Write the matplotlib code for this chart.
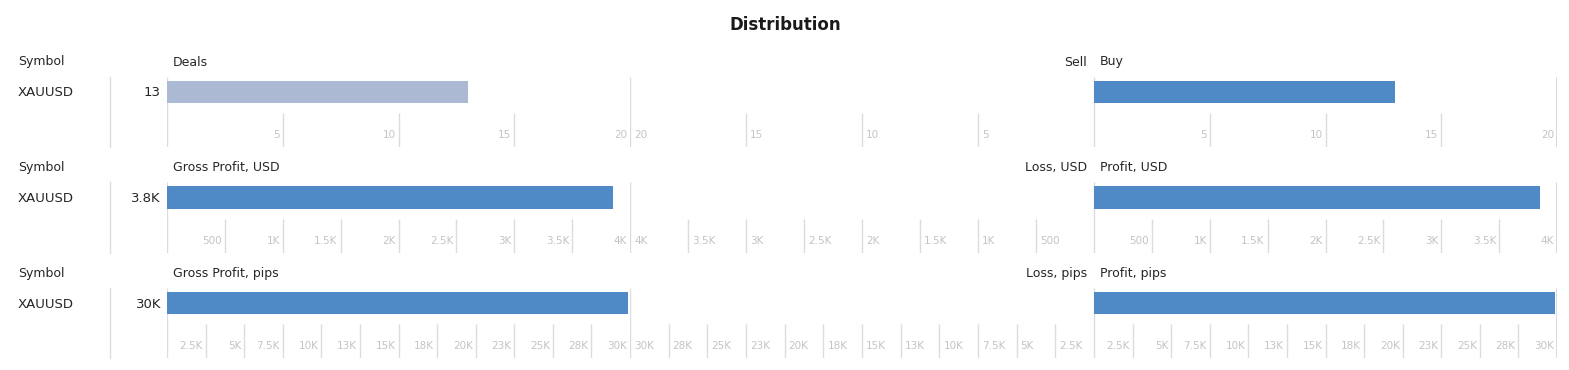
import matplotlib
matplotlib.use("Agg")
import matplotlib.pyplot as plt
from matplotlib.lines import Line2D
from matplotlib import transforms

# ---------------- data ----------------
symbols = ["XAUUSD"]
row_titles = ["Deals", "Gross Profit, USD", "Gross Profit, pips"]
left_titles = ["Sell", "Loss, USD", "Loss, pips"]
right_titles = ["Buy", "Profit, USD", "Profit, pips"]
value_labels = ["13", "3.8K", "30K"]

total_values = [13, 3850, 29900]     # left panel (total)
loss_values = [0, 0, 0]              # middle panel (sell / loss)
gain_values = [13, 3850, 29900]      # right panel (buy / profit)
axis_max = [20, 4000, 30000]

ticks_deals = [5, 10, 15, 20]
ticklabels_deals = ["5", "10", "15", "20"]
ticks_usd = [500, 1000, 1500, 2000, 2500, 3000, 3500, 4000]
ticklabels_usd = ["500", "1K", "1.5K", "2K", "2.5K", "3K", "3.5K", "4K"]
ticks_pips = [2500, 5000, 7500, 10000, 12500, 15000, 17500, 20000,
              22500, 25000, 27500, 30000]
ticklabels_pips = ["2.5K", "5K", "7.5K", "10K", "13K", "15K", "18K", "20K",
                   "23K", "25K", "28K", "30K"]
all_ticks = [ticks_deals, ticks_usd, ticks_pips]
all_ticklabels = [ticklabels_deals, ticklabels_usd, ticklabels_pips]

# ---------------- style ----------------
W, H = 1569, 370
DPI = 100
FONT = "DejaVu Sans"
BLUE = "#4f8ac7"
LIGHT = "#abb9d2"
GRID = "#dcdcdc"
TICKC = "#c4c4c4"
TEXTC = "#262626"

fig = plt.figure(figsize=(W / DPI, H / DPI), dpi=DPI)
fig.patch.set_facecolor("white")


def fx(px):
    return px / W


def fy(py):
    return 1 - py / H


fig.text(fx(785), fy(25), "Distribution", ha="center", va="center",
         fontsize=12, fontweight="bold", color="#1a1a1a", family=FONT)

panels = [(167, 463), (630, 464), (1094, 463)]
ROW_H = 70
for r in range(3):
    top = 77 + r * 105.5
    bottom = top + ROW_H
    # header texts
    fig.text(fx(18), fy(top - 15), "Symbol", ha="left", va="center",
             fontsize=9, color=TEXTC, family=FONT)
    fig.text(fx(173), fy(top - 15), row_titles[r], ha="left", va="center",
             fontsize=9, color=TEXTC, family=FONT)
    fig.text(fx(1087), fy(top - 15), left_titles[r], ha="right", va="center",
             fontsize=9, color=TEXTC, family=FONT)
    fig.text(fx(1100), fy(top - 15), right_titles[r], ha="left", va="center",
             fontsize=9, color=TEXTC, family=FONT)
    # symbol + value
    fig.text(fx(18), fy(top + 16), symbols[0], ha="left", va="center",
             fontsize=9.5, color=TEXTC, family=FONT)
    fig.text(fx(161), fy(top + 16), value_labels[r], ha="right", va="center",
             fontsize=9.5, color=TEXTC, family=FONT)
    fig.add_artist(Line2D([fx(110), fx(110)], [fy(top), fy(bottom)],
                          color=GRID, lw=1))

    vals = [total_values[r], loss_values[r], gain_values[r]]
    colors = [LIGHT if r == 0 else BLUE, BLUE, BLUE]
    for p, (x0, w) in enumerate(panels):
        ax = fig.add_axes([fx(x0), fy(bottom), fx(w), ROW_H / H])
        ax.set_axis_off()
        if p == 1:
            ax.set_xlim(axis_max[r], 0)
        else:
            ax.set_xlim(0, axis_max[r])
        ax.set_ylim(ROW_H, 0)
        if vals[p] > 0:
            ax.barh(15, vals[p], height=22, left=0, color=colors[p], zorder=2)
        ticks = all_ticks[r]
        labels = all_ticklabels[r]
        inner = [t for t in ticks if t != axis_max[r]]
        ax.vlines(inner, 36, ROW_H, color=GRID, lw=1, zorder=1)
        ax.vlines([0], 0, ROW_H, color=GRID, lw=1, zorder=1)
        if p == 2:
            ax.vlines([axis_max[r]], 0, ROW_H, color="#d6d6d6", lw=2, zorder=1)
        elif p == 1:
            ax.vlines([axis_max[r]], 0, ROW_H, color=GRID, lw=1, zorder=1)
        if p == 1:
            tr = transforms.offset_copy(ax.transData, fig=fig, x=4, y=0,
                                        units="dots")
            ha = "left"
        else:
            tr = transforms.offset_copy(ax.transData, fig=fig, x=-3, y=0,
                                        units="dots")
            ha = "right"
        for t, lab in zip(ticks, labels):
            ax.text(t, 58, lab, transform=tr, ha=ha, va="center",
                    fontsize=7.5, color=TICKC, family=FONT, clip_on=False)

fig.savefig("out.png", dpi=DPI, facecolor="white")
